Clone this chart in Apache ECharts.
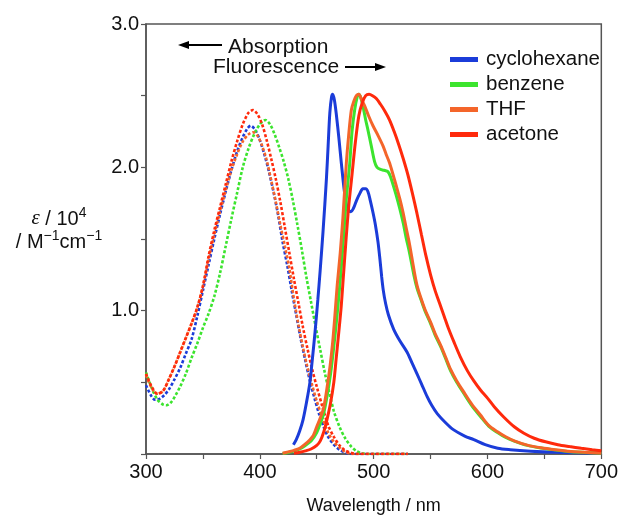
<!DOCTYPE html>
<html>
<head>
<meta charset="utf-8">
<title>Absorption and fluorescence spectra</title>
<script src="https://cdn.jsdelivr.net/npm/echarts@6/dist/echarts.min.js"></script>
<style>
  html, body { margin: 0; padding: 0; background: #fff; }
  #chart { width: 621px; height: 520px; }
</style>
</head>
<body>
<div id="chart"></div>
<script>
// Solvents, in legend order
const solvents = ['cyclohexane', 'benzene', 'THF', 'acetone'];
const solventColors = ['#1b3cd9', '#3ce42e', '#f4652a', '#ff2a0c'];

// Axis ticks
const xTicks = [300, 400, 500, 600, 700];
const yTicks = [1.0, 2.0, 3.0];

// Absorption spectra: [wavelength / nm, epsilon / 10^4 M^-1 cm^-1]
const absCyclohexane = [
  [300,0.48],[305,0.40],[308,0.378],[312,0.385],[316,0.41],[320,0.45],[325,0.52],[330,0.60],
  [335,0.70],[340,0.80],[345,0.96],[350,1.14],[355,1.32],[360,1.50],[365,1.67],[370,1.83],
  [375,1.98],[380,2.11],[385,2.21],[389,2.27],[392,2.29],[396,2.26],[400,2.19],[404,2.09],
  [408,1.97],[412,1.83],[416,1.67],[420,1.48],[424,1.32],[428,1.14],[432,0.97],[436,0.80],
  [440,0.65],[444,0.51],[448,0.39],[452,0.28],[456,0.19],[460,0.12],[465,0.065],[470,0.03],
  [475,0.01],[480,0],[530,0]
];
const absBenzene = [
  [300,0.57],[305,0.46],[310,0.38],[315,0.345],[318,0.34],[322,0.36],[326,0.41],[330,0.47],
  [335,0.56],[340,0.67],[345,0.77],[350,0.88],[355,0.98],[360,1.10],[365,1.26],[370,1.45],
  [375,1.64],[380,1.82],[385,2.00],[390,2.13],[395,2.23],[400,2.30],[405,2.33],[409,2.30],
  [413,2.23],[417,2.14],[421,2.04],[425,1.92],[429,1.77],[433,1.60],[437,1.42],[441,1.23],
  [445,1.06],[449,0.89],[453,0.73],[457,0.57],[461,0.43],[465,0.30],[470,0.19],[475,0.11],
  [480,0.055],[485,0.02],[490,0.005],[495,0],[530,0]
];
const absTHF = [
  [300,0.55],[305,0.46],[310,0.42],[315,0.44],[320,0.52],[325,0.61],[330,0.71],[335,0.81],
  [340,0.91],[345,1.02],[350,1.17],[355,1.36],[360,1.53],[365,1.69],[370,1.84],[375,1.98],
  [380,2.09],[385,2.18],[390,2.23],[394,2.245],[398,2.22],[402,2.15],[406,2.05],[410,1.91],
  [414,1.76],[418,1.60],[422,1.45],[426,1.29],[430,1.08],[434,0.90],[438,0.74],[442,0.60],
  [446,0.48],[450,0.37],[455,0.25],[460,0.15],[465,0.085],[470,0.045],[475,0.015],
  [480,0.003],[485,0],[530,0]
];
const absAcetone = [
  [300,0.56],[305,0.47],[310,0.42],[315,0.44],[320,0.52],[325,0.61],[330,0.71],[335,0.81],
  [340,0.91],[345,1.02],[350,1.17],[355,1.38],[360,1.56],[365,1.72],[370,1.88],[375,2.04],
  [380,2.18],[385,2.30],[390,2.38],[394,2.40],[398,2.37],[402,2.30],[406,2.19],[410,2.06],
  [414,1.92],[418,1.76],[422,1.58],[426,1.40],[430,1.22],[434,1.05],[438,0.88],[442,0.73],
  [446,0.59],[450,0.47],[455,0.33],[460,0.20],[465,0.12],[470,0.06],[475,0.025],
  [480,0.008],[485,0],[530,0]
];

// Normalised fluorescence spectra on the same scale
const fluCyclohexane = [
  [429.5,0.065],[432,0.10],[435,0.16],[438,0.24],[441,0.36],[444,0.50],[446,0.65],[448.5,0.85],
  [451,1.08],[453,1.28],[455.5,1.55],[458.5,1.92],[460,2.15],[461.5,2.38],[463,2.49],[464,2.51],
  [465.5,2.47],[467.2,2.37],[469.5,2.20],[471.6,2.03],[474,1.85],[476,1.74],[478,1.70],[480,1.69],
  [482,1.71],[485,1.77],[488,1.82],[490.5,1.85],[493,1.85],[495,1.83],[497,1.77],[499.4,1.685],
  [501.5,1.60],[503.8,1.48],[505.5,1.36],[507,1.24],[508.5,1.14],[510.5,1.05],[513,0.97],
  [517.6,0.87],[523,0.79],[529.4,0.71],[534,0.63],[538,0.56],[542,0.49],[547,0.40],[551,0.34],
  [556,0.28],[563,0.22],[570,0.17],[580,0.125],[588,0.10],[598,0.065],[609,0.04],[620,0.03],
  [638,0.02],[660,0.012],[680,0.008],[700,0.005]
];
const fluBenzene = [
  [420,0.004],[425,0.01],[430,0.02],[435,0.035],[440,0.06],[445,0.09],[450,0.15],[453,0.21],
  [456,0.28],[459,0.40],[462,0.55],[465,0.75],[468,0.98],[470.5,1.20],[473,1.45],[476,1.78],
  [479,2.03],[481,2.25],[483.3,2.40],[485.5,2.49],[487,2.51],[488.5,2.49],[490.5,2.43],[493,2.33],
  [495,2.26],[497.9,2.15],[500.8,2.04],[503,2.0],[506,1.985],[509,1.98],[512.5,1.97],[515,1.93],
  [517,1.88],[520,1.80],[523,1.71],[526,1.61],[528.5,1.51],[531.6,1.40],[535.3,1.25],[538,1.16],
  [541,1.09],[545,1.00],[550,0.91],[554,0.83],[558.8,0.75],[563,0.67],[567.6,0.58],[573,0.50],
  [579.4,0.42],[586,0.34],[594,0.26],[601,0.195],[608.8,0.15],[616,0.115],[623.5,0.09],
  [635,0.06],[647,0.042],[660,0.027],[670.6,0.018],[685,0.011],[700,0.005]
];
const fluTHF = [
  [420,0.005],[425,0.015],[430,0.025],[435,0.04],[440,0.07],[444,0.10],[447,0.13],[450,0.19],
  [453,0.25],[456,0.32],[459,0.46],[461.8,0.62],[464,0.78],[466,0.97],[468,1.18],[470.6,1.40],
  [473,1.65],[476,2.03],[478,2.22],[480.4,2.40],[482.5,2.46],[484.8,2.50],[487,2.51],[489.5,2.47],
  [492,2.43],[495.5,2.36],[499.4,2.29],[504,2.22],[508.2,2.15],[511,2.09],[514,2.03],[517,1.95],
  [519.9,1.87],[523,1.78],[525.7,1.69],[528.5,1.58],[531.6,1.46],[535.3,1.29],[538,1.18],
  [541,1.10],[545,1.01],[550,0.92],[554,0.84],[558.8,0.76],[563,0.68],[567.6,0.59],[573,0.51],
  [579.4,0.43],[586,0.35],[594,0.27],[601,0.20],[608.8,0.155],[616,0.12],[623.5,0.092],
  [635,0.062],[647,0.043],[660,0.029],[670.6,0.02],[685,0.012],[697,0.007],[700,0.006]
];
const fluAcetone = [
  [430,0.005],[435,0.012],[440,0.022],[445,0.035],[450,0.06],[453,0.09],[456,0.15],[459,0.24],
  [462,0.35],[465,0.50],[467,0.66],[469,0.82],[471.5,1.03],[473.5,1.25],[475.5,1.47],[478,1.72],
  [481,1.95],[484,2.18],[487,2.36],[490,2.45],[493,2.50],[496,2.51],[499,2.50],[502.3,2.48],
  [506,2.44],[510,2.39],[514,2.33],[518,2.25],[522,2.16],[526,2.06],[530,1.95],[534,1.82],
  [538,1.68],[542,1.53],[546,1.38],[550,1.25],[554,1.14],[558,1.05],[562,0.96],[566,0.87],
  [570.6,0.78],[576,0.68],[582.4,0.58],[588,0.51],[594,0.445],[600,0.39],[605.9,0.33],
  [614,0.26],[623.5,0.19],[632,0.145],[641,0.11],[651,0.085],[661.8,0.065],[672,0.052],
  [682.4,0.04],[692,0.03],[700,0.022]
];

const absorption = [absCyclohexane, absBenzene, absTHF, absAcetone];
const fluorescence = [fluCyclohexane, fluBenzene, fluTHF, fluAcetone];

const FONT = '"Liberation Sans", Arial, Helvetica, sans-serif';
const AXIS_GRAY = '#555555';

const chart = echarts.init(document.getElementById('chart'), null, { renderer: 'canvas' });

const series = [];
// dashed absorption curves underneath
solvents.forEach((name, i) => {
  series.push({
    name: name + ' (abs)',
    type: 'line',
    data: absorption[i],
    symbol: 'none',
    smooth: 0.3,
    silent: true,
    lineStyle: { color: solventColors[i], width: 2.6, type: [3, 2] },
    z: 2
  });
});
// solid fluorescence curves on top
solvents.forEach((name, i) => {
  series.push({
    name: name,
    type: 'line',
    data: fluorescence[i],
    symbol: 'none',
    smooth: 0.3,
    silent: true,
    itemStyle: { color: solventColors[i] },
    lineStyle: { color: solventColors[i], width: 3 },
    z: 3 + i
  });
});

// arrow helper for the annotation arrows
function arrow(x1, x2, y) {
  const dir = x2 > x1 ? 1 : -1;
  const headLen = 11, headHalf = 4;
  return [
    { type: 'line', shape: { x1: x1, y1: y, x2: x2 - dir * headLen * 0.8, y2: y },
      style: { stroke: '#000', lineWidth: 1.8 }, silent: true },
    { type: 'polygon', shape: { points: [[x2, y], [x2 - dir * headLen, y - headHalf], [x2 - dir * headLen, y + headHalf]] },
      style: { fill: '#000' }, silent: true }
  ];
}

const option = {
  animation: false,
  backgroundColor: '#ffffff',
  grid: {
    left: 146, right: 19, top: 24, bottom: 64,
    show: true, borderColor: AXIS_GRAY, borderWidth: 1.5, backgroundColor: 'transparent'
  },
  legend: {
    data: solvents,
    orient: 'vertical',
    left: 445,
    top: 44,
    itemWidth: 28,
    itemHeight: 5,
    itemGap: 4,
    icon: 'rect',
    textStyle: { fontFamily: FONT, fontSize: 20.5, color: '#111', lineHeight: 21, padding: [0, 0, 0, 3] },
    selectedMode: false
  },
  xAxis: {
    type: 'value',
    min: 300, max: 700, interval: 50,
    name: 'Wavelength / nm',
    nameLocation: 'middle',
    nameGap: 43,
    nameTextStyle: { fontFamily: FONT, fontSize: 18, color: '#111' },
    axisLine: { show: true, lineStyle: { color: AXIS_GRAY, width: 1.5 } },
    axisTick: { show: true, inside: false, length: 5, lineStyle: { color: AXIS_GRAY, width: 1.2 } },
    splitLine: { show: false },
    axisLabel: {
      fontFamily: FONT, fontSize: 20, color: '#111', margin: 8,
      formatter: v => (xTicks.indexOf(v) >= 0 ? String(v) : '')
    }
  },
  yAxis: {
    type: 'value',
    min: 0, max: 3, interval: 0.5,
    axisLine: { show: true, lineStyle: { color: AXIS_GRAY, width: 1.5 } },
    axisTick: { show: true, inside: false, length: 5, lineStyle: { color: AXIS_GRAY, width: 1.2 } },
    splitLine: { show: false },
    axisLabel: {
      fontFamily: FONT, fontSize: 20, color: '#111', margin: 7,
      formatter: v => (yTicks.indexOf(v) >= 0 ? v.toFixed(1) : '')
    }
  },
  graphic: [
    // y axis title
    {
      type: 'text', x: 59, y: 229, silent: true,
      style: {
        text: '{eps|ε}{t| / 10}{sup|4}\n{t|/ M}{sup|−1}{t|cm}{sup|−1}',
        align: 'center', verticalAlign: 'middle',
        fill: '#111',
        rich: {
          eps: { fontFamily: '"Liberation Serif", serif', fontStyle: 'italic', fontSize: 21, lineHeight: 23, verticalAlign: 'bottom' },
          t: { fontFamily: FONT, fontSize: 20, lineHeight: 23, verticalAlign: 'bottom' },
          sup: { fontFamily: FONT, fontSize: 14, lineHeight: 23, verticalAlign: 'top' }
        }
      }
    },
    // direction annotations
    { type: 'text', x: 228, y: 47, silent: true,
      style: { text: 'Absorption', fontFamily: FONT, fontSize: 21, fill: '#111', verticalAlign: 'middle', align: 'left' } },
    { type: 'text', x: 213, y: 67, silent: true,
      style: { text: 'Fluorescence', fontFamily: FONT, fontSize: 21, fill: '#111', verticalAlign: 'middle', align: 'left' } },
    ...arrow(222, 178, 45),
    ...arrow(345, 386, 67)
  ],
  series: series
};

chart.setOption(option);
</script>
</body>
</html>
